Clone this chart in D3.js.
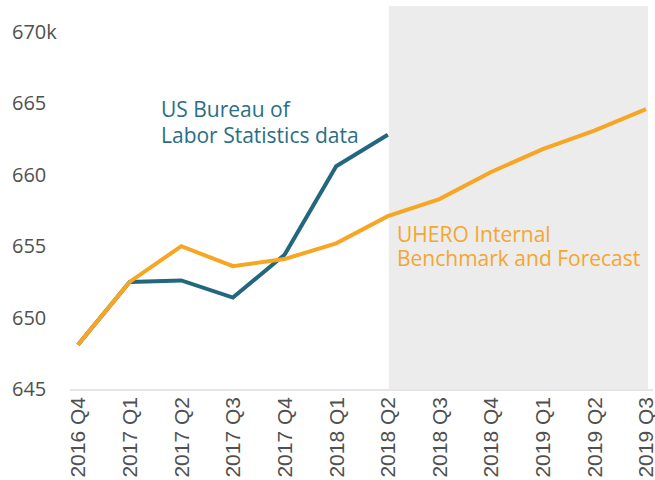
<!DOCTYPE html>
<html>
<head>
<meta charset="utf-8">
<script src="https://cdn.jsdelivr.net/npm/d3@7"></script>
<style>
  body { margin: 0; background: #fff; }
  svg { display: block; }
</style>
</head>
<body>
<svg id="chart" width="655" height="480"></svg>
<script>
const quarters = ["2016 Q4", "2017 Q1", "2017 Q2", "2017 Q3", "2017 Q4", "2018 Q1", "2018 Q2",
  "2018 Q3", "2018 Q4", "2019 Q1", "2019 Q2", "2019 Q3"];
const blsData = [648.1, 652.5, 652.6, 651.4, 654.4, 660.6, 662.8];
const uheroData = [648.1, 652.5, 655.0, 653.6, 654.1, 655.2, 657.1, 658.3, 660.2, 661.8, 663.1, 664.6];
const yTicks = [645, 650, 655, 660, 665, 670];
const forecastStart = "2018 Q2";

const svg = d3.select("#chart");
const W = 655, H = 480;
const BLUE = "#22677f", ORANGE = "#f6a623", TEXT = "#505050";

const x = d3.scalePoint().domain(quarters).range([78, 646]);
const y = d3.scaleLinear().domain([645, 670]).range([389, 32]);

// Forecast shading
svg.append("rect")
  .attr("x", x(forecastStart) + 1)
  .attr("y", 6)
  .attr("width", x(quarters[quarters.length - 1]) + 2 - x(forecastStart) - 1)
  .attr("height", y(645) - 6)
  .attr("fill", "#ececec");

// Y axis labels
svg.append("g").selectAll("text")
  .data(yTicks)
  .join("text")
  .attr("x", 12)
  .attr("y", d => y(d))
  .attr("dy", "0.35em")
  .attr("font-family", "Open Sans")
  .attr("font-size", "20px")
  .attr("fill", TEXT)
  .text(d => d === 670 ? "670k" : d);

// X axis
svg.append("line")
  .attr("x1", 70).attr("x2", 653)
  .attr("y1", y(645) + 1).attr("y2", y(645) + 1)
  .attr("stroke", "#dcdcdc").attr("stroke-width", 1.5);

svg.append("g").selectAll("text")
  .data(quarters)
  .join("text")
  .attr("transform", d => `translate(${x(d)}, 397) rotate(-90)`)
  .attr("text-anchor", "end")
  .attr("dy", "0.35em")
  .attr("font-family", "Liberation Sans")
  .attr("font-size", "21px")
  .attr("fill", TEXT)
  .text(d => d);

const line = d3.line()
  .x((d, i) => x(quarters[i]))
  .y(d => y(d));

svg.append("path")
  .datum(blsData)
  .attr("fill", "none")
  .attr("stroke", BLUE)
  .attr("stroke-width", 4)
  .attr("d", line);

svg.append("path")
  .datum(uheroData)
  .attr("fill", "none")
  .attr("stroke", ORANGE)
  .attr("stroke-width", 4)
  .attr("d", line);

// Annotations
const blsLabel = svg.append("text")
  .attr("font-family", "Open Sans")
  .attr("font-size", "21px")
  .attr("fill", "#2a6e86");
blsLabel.append("tspan").attr("x", 161).attr("y", 117).text("US Bureau of");
blsLabel.append("tspan").attr("x", 161).attr("y", 143).text("Labor Statistics data");

const uheroLabel = svg.append("text")
  .attr("font-family", "Open Sans")
  .attr("font-size", "21px")
  .attr("fill", "#f5a630");
uheroLabel.append("tspan").attr("x", 397).attr("y", 242).text("UHERO Internal");
uheroLabel.append("tspan").attr("x", 397).attr("y", 266).text("Benchmark and Forecast");
</script>
</body>
</html>
